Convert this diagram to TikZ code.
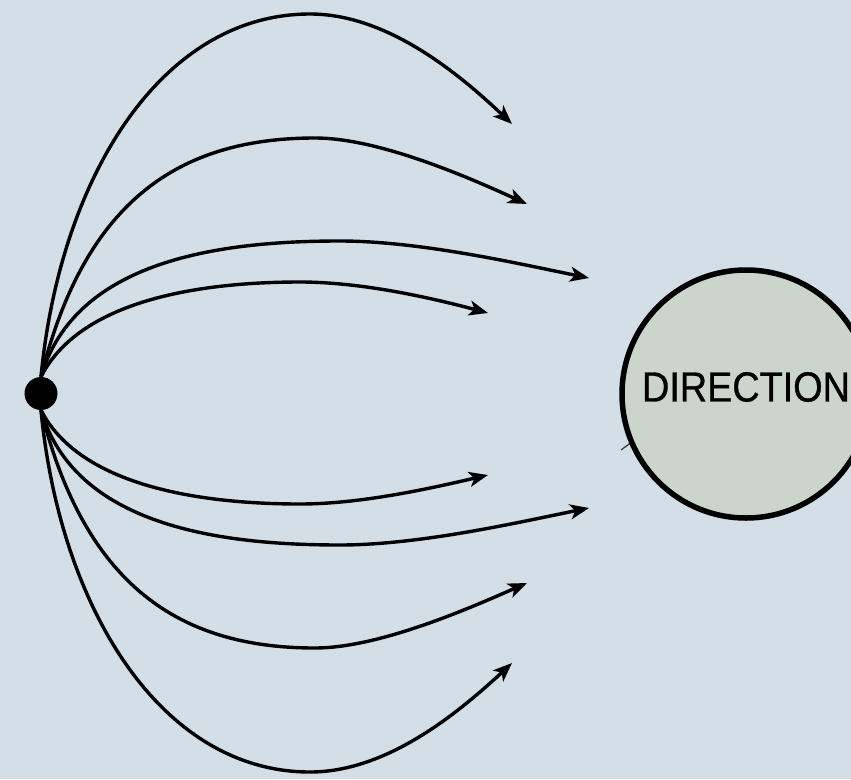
\documentclass[tikz,border=0pt]{standalone}
\usepackage{fontspec}
\newfontfamily\dirfont[FakeStretch=0.9,FakeBold=0.8]{Liberation Sans}
\usetikzlibrary{arrows.meta}
\definecolor{bgc}{HTML}{D3DEE6}
\definecolor{circfill}{HTML}{CBD5CB}
\tikzset{
  dotnode/.style={circle, fill=black, draw=none, minimum size=33pt, inner sep=0pt},
  bignode/.style={circle, fill=circfill, draw=black, line width=5.5pt, minimum size=248pt, inner sep=0pt},
  curvearrow/.style={line width=3.4pt, -{Stealth[length=19pt,width=15pt,inset=5pt]}},
  stubline/.style={line width=1.2pt, draw=black!80},
}
\begin{document}
\begin{tikzpicture}[x=1pt,y=-1pt]
\fill[bgc] (0,0) rectangle (851,779);
\useasboundingbox (0,0) rectangle (851,779);

\node[dotnode] (dot) at (41,393.5) {};

% peak coordinates
\coordinate (p1) at (310,14);
\coordinate (p2) at (315,138);
\coordinate (p3) at (340,241);
\coordinate (p4) at (300,282);
\coordinate (p5) at (300,504);
\coordinate (p6) at (340,545);
\coordinate (p7) at (315,648);
\coordinate (p8) at (310,772);
% end coordinates
\coordinate (e1) at (512,124);
\coordinate (e2) at (527,204);
\coordinate (e3) at (589,278);
\coordinate (e4) at (488,313);
\coordinate (e5) at (488,475);
\coordinate (e6) at (589,508);
\coordinate (e7) at (527,583);
\coordinate (e8) at (512,663);

\coordinate (s1) at (621,450);
\coordinate (s2) at (640,436);
\draw[stubline] (s1) -- (s2);

\node[bignode] (circ) at (746,394) {};
\node[font=\dirfont\fontsize{42}{44}\selectfont, inner sep=0pt] (dirtext) at ([yshift=7pt]circ.center) {DIRECTION};

\draw[curvearrow] (dot.north) .. controls (60,178) and (161,14) .. (p1) .. controls (385,14) and (455,70) .. (e1);
\draw[curvearrow] (dot.north) .. controls (85,200) and (180,138) .. (p2) .. controls (380,138) and (472,179) .. (e2);
\draw[curvearrow] (dot.north) .. controls (75,260) and (220,241) .. (p3) .. controls (420,241) and (520,264) .. (e3);
\draw[curvearrow] (dot.north) .. controls (80,300) and (200,282) .. (p4) .. controls (360,282) and (428,297) .. (e4);

\draw[curvearrow] (dot.south) .. controls (80,486) and (200,504) .. (p5) .. controls (360,504) and (428,489) .. (e5);
\draw[curvearrow] (dot.south) .. controls (75,526) and (220,545) .. (p6) .. controls (420,545) and (520,522) .. (e6);
\draw[curvearrow] (dot.south) .. controls (85,586) and (180,648) .. (p7) .. controls (380,648) and (472,607) .. (e7);
\draw[curvearrow] (dot.south) .. controls (60,608) and (161,772) .. (p8) .. controls (385,772) and (455,716) .. (e8);
\end{tikzpicture}
\end{document}
